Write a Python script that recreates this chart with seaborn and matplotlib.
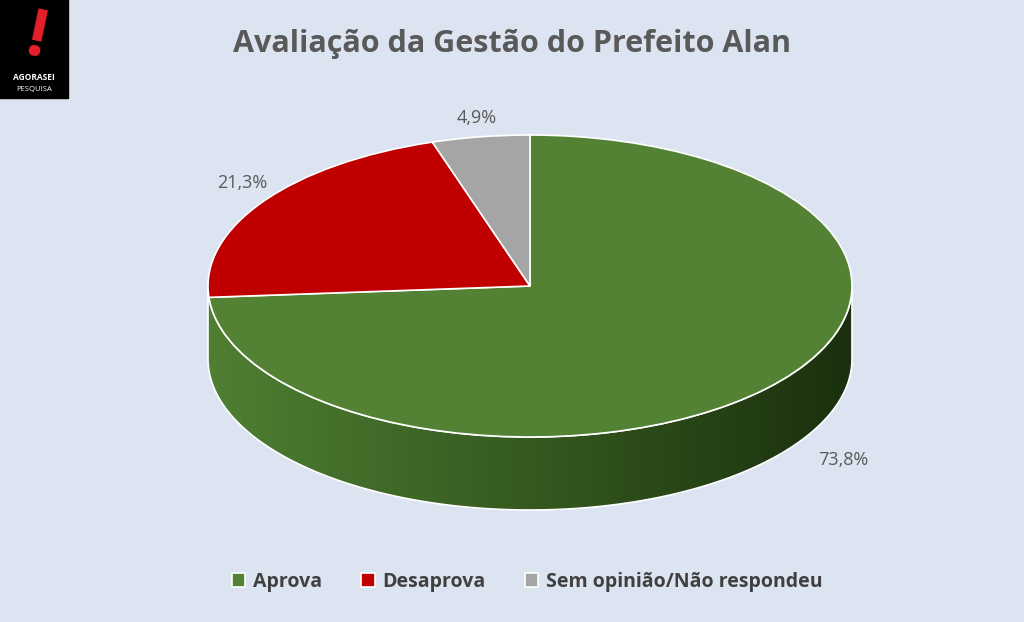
import numpy as np
import matplotlib
matplotlib.use("Agg")
import matplotlib.pyplot as plt
import matplotlib.patches as mpatches
from matplotlib.path import Path
from matplotlib.transforms import Affine2D
import seaborn as sns

categories = ["Aprova", "Desaprova", "Sem opinião/Não respondeu"]
values = [73.8, 21.3, 4.9]
value_labels = ["73,8%", "21,3%", "4,9%"]
colors = ["#548235", "#c00000", "#a5a5a5"]

sns.set_theme(style="white")
plt.rcParams["font.family"] = ["Open Sans", "DejaVu Sans"]

BG = "#dce3f1"
fig = plt.figure(figsize=(10.24, 6.22), dpi=100, facecolor=BG)
ax = fig.add_axes([0, 0, 1, 1])
ax.set_facecolor(BG)
ax.axis("off")

cx, cy, rx, ry, depth = 530, 336, 322, 151, 73
top_tr = Affine2D().scale(rx, ry).translate(cx, cy) + ax.transData

# side of the cylinder (front half), shaded with a gradient
t = np.linspace(np.pi, 2 * np.pi, 200)
xs = cx + rx * np.cos(t)
ys = cy + ry * np.sin(t)
verts = np.concatenate([np.c_[xs, ys - depth], np.c_[xs[::-1], ys[::-1]]])
side = Path(np.vstack([verts, verts[:1]]), closed=True)
grad = np.linspace(0, 1, 256)[None, :]
cmap = matplotlib.colors.LinearSegmentedColormap.from_list("side", ["#4f7f33", "#35591f", "#1a300e"])
img = ax.imshow(grad, cmap=cmap, extent=[cx - rx, cx + rx, cy - ry - depth, cy], aspect="auto", zorder=1)
patch = mpatches.PathPatch(side, facecolor="none", edgecolor="white", lw=1.2, zorder=1.5)
ax.add_patch(patch)
img.set_clip_path(patch)

# top face
wedges, _ = ax.pie(values, colors=colors, startangle=90, counterclock=False,
                   wedgeprops=dict(edgecolor="white", linewidth=1.2))
for w in wedges:
    w.set_transform(top_tr)
    w.set_zorder(2)
ax.set_xlim(0, 1024)
ax.set_ylim(0, 622)
ax.set_aspect("auto")

# value labels
label_pos = [(843, 162), (242, 439), (477, 504)]
for (x, y), lab in zip(label_pos, value_labels):
    ax.text(x, y, lab, ha="center", va="center", fontsize=13, color="#595959", zorder=3)

ax.text(512, 578, "Avaliação da Gestão do Prefeito Alan", ha="center", va="center",
        fontsize=22, fontweight="bold", color="#595959")

ax.legend(wedges, categories, loc="lower center", bbox_to_anchor=(0.515, 0.02), ncol=3,
          frameon=False, prop=dict(size=14, weight="bold"), labelcolor="#404040",
          handlelength=0.7, handleheight=0.7, columnspacing=2.0, handletextpad=0.4)

# logo
ax.add_patch(mpatches.Rectangle((0, 524), 68, 98, color="black", zorder=4))
ax.text(36, 584, "!", ha="center", va="center", fontsize=48, fontweight="bold",
        color="#e8202a", rotation=-12, zorder=5)
ax.text(34, 545, "AGORASEI", ha="center", va="center", fontsize=6, fontweight="bold",
        color="white", zorder=5)
ax.text(34, 533, "PESQUISA", ha="center", va="center", fontsize=5.5, color="white", zorder=5)

fig.savefig("out.png", dpi=100, facecolor=BG)
